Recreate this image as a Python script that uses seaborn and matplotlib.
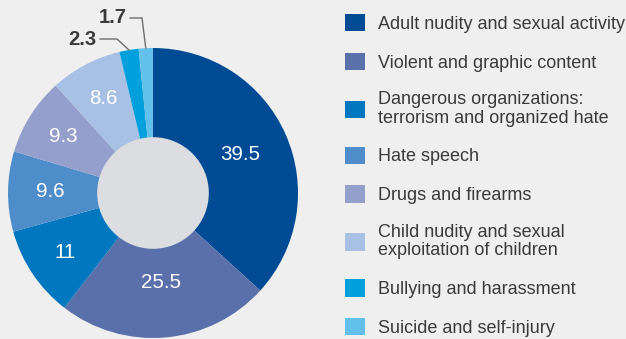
import matplotlib
matplotlib.use('Agg')
import matplotlib.pyplot as plt
import seaborn as sns
import numpy as np
from matplotlib.patches import Patch, Circle

categories = [
    "Adult nudity and sexual activity",
    "Violent and graphic content",
    "Dangerous organizations:\nterrorism and organized hate",
    "Hate speech",
    "Drugs and firearms",
    "Child nudity and sexual\nexploitation of children",
    "Bullying and harassment",
    "Suicide and self-injury",
]
values = [39.5, 25.5, 11, 9.6, 9.3, 8.6, 2.3, 1.7]
value_labels = ["39.5", "25.5", "11", "9.6", "9.3", "8.6", "2.3", "1.7"]
hex_colors = ["#004b93", "#5a70ab", "#0077be", "#4f8dca",
              "#959fcb", "#a8c0e3", "#00a0dc", "#63c0ea"]

sns.set_style("white")
plt.rcParams['font.family'] = ['Liberation Sans', 'DejaVu Sans']
palette = sns.color_palette(hex_colors)

BG = "#efefef"
fig = plt.figure(figsize=(6.26, 3.39), dpi=100, facecolor=BG)
ax = fig.add_axes([8 / 626, 1 / 339, 290 / 626, 290 / 339])
ax.set_facecolor("none")

wedges, _ = ax.pie(values, colors=palette, startangle=90, counterclock=False,
                   radius=1, wedgeprops=dict(linewidth=0))
ax.set_xlim(-1, 1)
ax.set_ylim(-1, 1)
ax.set_aspect("auto")
ax.axis("off")

ax.add_patch(Circle((0, 0), 0.385, facecolor="#dcdde0", edgecolor="none", zorder=3))

# inside labels
dists = [0.66, 0.62, 0.73, 0.71, 0.73, 0.74]
for i, d in enumerate(dists):
    w = wedges[i]
    mid = np.deg2rad((w.theta1 + w.theta2) / 2)
    ax.text(d * np.cos(mid), d * np.sin(mid), value_labels[i], ha="center", va="center",
            color="white", fontsize=14.8, zorder=4)

# outside labels with leader lines
outer = {6: (-0.248, 1.062, -0.366), 7: (-0.076, 1.207, -0.159)}
for i, (ex, ey, sx) in outer.items():
    w = wedges[i]
    mid = np.deg2rad((w.theta1 + w.theta2) / 2)
    axx, ayy = np.cos(mid), np.sin(mid)
    ax.plot([sx, ex, axx], [ey, ey, ayy], color="#6e6e6e", lw=1, clip_on=False,
            solid_joinstyle="miter")
    ax.text(sx - 0.025, ey, value_labels[i], ha="right", va="center", color="#3a3a3a",
            fontsize=14.5, fontweight="bold", clip_on=False)

handles = [Patch(facecolor=c, edgecolor="none") for c in palette]
leg = fig.legend(handles, categories, loc="upper left", bbox_to_anchor=(345 / 626, 1 - 14 / 339),
                 frameon=False, fontsize=13, handlelength=1.11, handleheight=1.11,
                 handletextpad=0.72, labelspacing=1.1, borderpad=0, borderaxespad=0,
                 labelcolor="#3a3a3a")
for t in leg.get_texts():
    t.set_linespacing(1.1)

fig.savefig("out.png", dpi=100, facecolor=BG)
